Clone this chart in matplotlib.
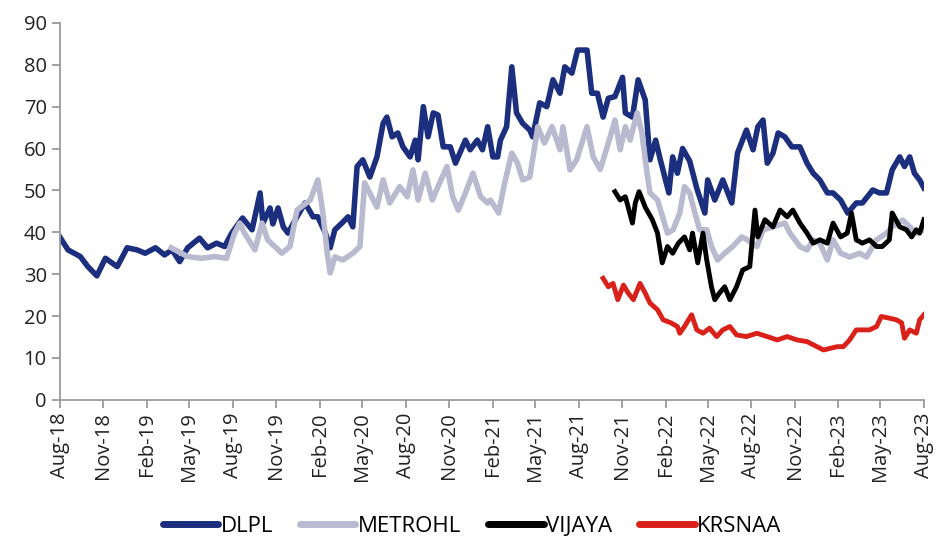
import pandas as pd
import matplotlib
matplotlib.use("Agg")
import matplotlib.pyplot as plt
import matplotlib.dates as mdates

# DLPL
dlpl_dates = [
    "2018-08-01", "2018-08-18", "2018-09-13", "2018-09-29", "2018-10-18", "2018-11-05",
    "2018-11-30", "2018-12-21", "2019-01-11", "2019-01-28", "2019-02-19", "2019-03-10",
    "2019-03-26", "2019-04-11", "2019-04-28", "2019-05-23", "2019-06-09", "2019-06-28",
    "2019-07-15", "2019-07-30", "2019-08-22", "2019-09-11", "2019-09-28", "2019-10-04",
    "2019-10-19", "2019-10-25", "2019-11-05", "2019-11-16", "2019-11-26", "2019-12-15",
    "2020-01-01", "2020-01-18", "2020-01-28", "2020-02-13", "2020-02-23", "2020-03-04",
    "2020-03-19", "2020-04-01", "2020-04-11", "2020-04-20", "2020-05-02", "2020-05-17",
    "2020-06-01", "2020-06-14", "2020-06-22", "2020-07-03", "2020-07-15", "2020-07-26",
    "2020-08-10", "2020-08-21", "2020-08-27", "2020-09-07", "2020-09-17", "2020-09-28",
    "2020-10-08", "2020-10-19", "2020-11-03", "2020-11-14", "2020-12-05", "2020-12-15",
    "2020-12-30", "2021-01-10", "2021-01-21", "2021-02-01", "2021-02-11", "2021-02-17",
    "2021-03-02", "2021-03-13", "2021-03-23", "2021-04-05", "2021-04-20", "2021-04-26",
    "2021-05-11", "2021-05-26", "2021-06-08", "2021-06-23", "2021-07-03", "2021-07-18",
    "2021-07-30", "2021-08-19", "2021-08-29", "2021-09-10", "2021-09-22", "2021-10-03",
    "2021-10-17", "2021-11-02", "2021-11-08", "2021-11-23", "2021-12-05", "2021-12-20",
    "2021-12-30", "2022-01-11", "2022-01-21", "2022-02-08", "2022-02-16", "2022-02-26",
    "2022-03-09", "2022-03-24", "2022-04-08", "2022-04-25", "2022-05-01", "2022-05-16",
    "2022-06-02", "2022-06-21", "2022-07-03", "2022-07-22", "2022-08-05", "2022-08-15",
    "2022-08-26", "2022-09-04", "2022-09-16", "2022-09-27", "2022-10-11", "2022-10-26",
    "2022-11-12", "2022-11-27", "2022-12-10", "2022-12-24", "2023-01-09", "2023-01-21",
    "2023-02-06", "2023-02-21", "2023-03-11", "2023-03-24", "2023-04-15", "2023-04-29",
    "2023-05-14", "2023-05-26", "2023-06-11", "2023-06-21", "2023-07-02", "2023-07-12",
    "2023-07-23", "2023-08-01",
]
dlpl_vals = [
    38.8, 35.8, 34.2, 31.8, 29.6, 33.8,
    31.8, 36.3, 35.8, 35.0, 36.3, 34.6,
    35.8, 33.0, 36.3, 38.6, 36.3, 37.4,
    36.6, 39.8, 43.4, 40.6, 49.4, 42.2,
    45.8, 42.0, 45.8, 41.3, 39.8, 43.7,
    47.0, 43.7, 43.7, 39.8, 36.3, 40.6,
    42.2, 43.7, 41.3, 55.7, 57.3, 53.2,
    58.0, 66.0, 67.5, 62.8, 63.7, 60.4,
    58.0, 62.0, 57.3, 70.0, 62.8, 68.5,
    68.0, 60.4, 60.4, 56.5, 62.0, 59.7,
    62.0, 59.7, 65.2, 58.0, 58.0, 62.0,
    65.2, 79.5, 68.5, 66.0, 64.4, 62.8,
    70.9, 70.0, 76.4, 73.2, 79.5, 78.0,
    83.5, 83.5, 73.2, 73.2, 67.5, 72.0,
    72.4, 77.0, 68.5, 67.5, 76.4, 71.6,
    57.3, 62.0, 57.3, 49.4, 58.0, 54.1,
    60.0, 57.0, 50.5, 44.6, 52.5, 47.7,
    52.5, 47.0, 58.9, 64.4, 59.7, 65.2,
    66.8, 56.5, 58.9, 63.7, 62.8, 60.4,
    60.4, 56.5, 54.1, 52.5, 49.4, 49.4,
    47.7, 44.6, 47.0, 47.0, 50.1, 49.4,
    49.4, 54.9, 58.0, 55.7, 58.0, 54.1,
    52.5, 50.6,
]

# METROHL
metro_dates = [
    "2019-03-24", "2019-04-28", "2019-05-27", "2019-06-24", "2019-07-19", "2019-08-05",
    "2019-08-16", "2019-08-26", "2019-09-17", "2019-10-02", "2019-10-14", "2019-11-13",
    "2019-11-30", "2019-12-15", "2020-01-12", "2020-01-28", "2020-02-07", "2020-02-17",
    "2020-02-23", "2020-03-04", "2020-03-21", "2020-04-11", "2020-04-26", "2020-05-06",
    "2020-06-01", "2020-06-14", "2020-06-28", "2020-07-19", "2020-08-04", "2020-08-16",
    "2020-08-27", "2020-09-11", "2020-09-26", "2020-10-08", "2020-10-27", "2020-11-08",
    "2020-11-20", "2020-12-05", "2020-12-21", "2021-01-06", "2021-01-21", "2021-01-27",
    "2021-02-13", "2021-02-26", "2021-03-13", "2021-03-25", "2021-04-05", "2021-04-20",
    "2021-05-07", "2021-05-21", "2021-06-06", "2021-06-23", "2021-06-29", "2021-07-14",
    "2021-07-28", "2021-08-19", "2021-09-01", "2021-09-16", "2021-10-07", "2021-10-17",
    "2021-10-28", "2021-11-08", "2021-11-18", "2021-12-03", "2021-12-13", "2021-12-24",
    "2021-12-30", "2022-01-15", "2022-02-05", "2022-02-17", "2022-03-03", "2022-03-13",
    "2022-03-24", "2022-04-04", "2022-04-14", "2022-04-29", "2022-05-09", "2022-05-22",
    "2022-06-06", "2022-06-23", "2022-07-12", "2022-07-24", "2022-08-13", "2022-08-26",
    "2022-09-16", "2022-10-11", "2022-10-22", "2022-11-12", "2022-11-27", "2022-12-10",
    "2022-12-24", "2023-01-09", "2023-01-21", "2023-02-06", "2023-02-25", "2023-03-18",
    "2023-04-02", "2023-04-23", "2023-05-14", "2023-05-26", "2023-06-17", "2023-07-02",
    "2023-07-16", "2023-08-01",
]
metro_vals = [
    36.3, 34.2, 33.8, 34.2, 33.8, 39.8,
    42.2, 39.8, 35.8, 42.2, 38.2, 35.0,
    36.6, 45.3, 47.7, 52.5, 45.3, 35.0,
    30.3, 34.1, 33.4, 35.0, 36.6, 51.8,
    46.0, 52.5, 47.0, 50.9, 48.5, 54.9,
    47.7, 54.1, 47.7, 50.9, 55.7, 48.5,
    45.3, 49.4, 54.1, 48.5, 47.0, 47.7,
    44.6, 51.8, 58.9, 56.5, 52.5, 53.2,
    65.2, 61.3, 65.2, 59.7, 65.2, 54.9,
    57.3, 65.2, 58.0, 55.0, 62.8, 66.8,
    59.7, 65.2, 62.0, 68.5, 63.7, 54.1,
    49.4, 47.7, 39.8, 40.6, 44.6, 50.9,
    49.4, 44.6, 40.6, 40.6, 36.6, 33.4,
    35.0, 36.6, 38.9, 38.2, 36.6, 40.6,
    41.3, 42.2, 39.8, 36.6, 35.8, 38.2,
    37.4, 33.4, 38.2, 35.0, 34.1, 35.0,
    34.1, 38.2, 39.8, 41.3, 42.9, 41.3,
    39.8, 40.6,
]

# VIJAYA
vijaya_dates = [
    "2021-10-17", "2021-10-28", "2021-11-08", "2021-11-23", "2021-11-29", "2021-12-07",
    "2021-12-20", "2022-01-04", "2022-01-15", "2022-01-25", "2022-02-05", "2022-02-16",
    "2022-02-28", "2022-03-13", "2022-03-24", "2022-03-30", "2022-04-10", "2022-04-21",
    "2022-04-29", "2022-05-09", "2022-05-16", "2022-05-26", "2022-06-06", "2022-06-17",
    "2022-07-01", "2022-07-14", "2022-07-29", "2022-08-09", "2022-08-15", "2022-08-30",
    "2022-09-16", "2022-10-01", "2022-10-16", "2022-10-28", "2022-11-12", "2022-11-27",
    "2022-12-10", "2022-12-24", "2023-01-09", "2023-01-21", "2023-02-06", "2023-02-20",
    "2023-03-01", "2023-03-11", "2023-03-24", "2023-04-08", "2023-04-23", "2023-05-05",
    "2023-05-20", "2023-05-26", "2023-06-11", "2023-06-25", "2023-07-06", "2023-07-16",
    "2023-07-23", "2023-08-01",
]
vijaya_vals = [
    49.7, 47.7, 48.5, 42.2, 47.0, 49.7,
    46.0, 43.0, 39.8, 32.7, 36.6, 35.0,
    37.4, 38.9, 35.8, 39.8, 32.7, 39.8,
    33.4, 27.0, 23.9, 25.5, 27.0, 23.9,
    27.0, 31.0, 31.8, 45.3, 38.9, 43.0,
    41.3, 45.3, 43.7, 45.3, 42.2, 39.8,
    37.4, 38.2, 37.4, 42.2, 38.9, 39.8,
    44.6, 38.2, 37.4, 38.2, 36.6, 36.6,
    38.2, 44.6, 41.3, 40.6, 38.9, 40.6,
    39.8, 43.0,
]

# KRSNAA
krsnaa_dates = [
    "2021-09-22", "2021-10-03", "2021-10-13", "2021-10-23", "2021-11-04", "2021-11-14",
    "2021-11-25", "2021-12-09", "2021-12-20", "2021-12-30", "2022-01-15", "2022-01-27",
    "2022-02-12", "2022-02-26", "2022-03-03", "2022-03-13", "2022-03-28", "2022-04-08",
    "2022-04-21", "2022-05-05", "2022-05-20", "2022-06-02", "2022-06-17", "2022-07-01",
    "2022-07-22", "2022-08-13", "2022-09-04", "2022-09-25", "2022-10-16", "2022-11-06",
    "2022-11-27", "2022-12-18", "2023-01-01", "2023-01-15", "2023-01-30", "2023-02-12",
    "2023-02-25", "2023-03-11", "2023-03-24", "2023-04-08", "2023-04-23", "2023-05-03",
    "2023-05-20", "2023-06-04", "2023-06-15", "2023-06-21", "2023-07-02", "2023-07-16",
    "2023-07-23", "2023-08-01",
]
krsnaa_vals = [
    29.0, 27.0, 27.8, 23.9, 27.4, 25.5,
    23.9, 27.8, 25.5, 23.1, 21.5, 19.1,
    18.4, 17.5, 15.9, 17.5, 20.3, 16.7,
    15.9, 17.1, 15.1, 16.7, 17.5, 15.5,
    15.1, 15.9, 15.1, 14.3, 15.1, 14.3,
    13.9, 12.7, 11.9, 12.3, 12.7, 12.7,
    14.3, 16.7, 16.7, 16.7, 17.5, 19.9,
    19.5, 19.1, 18.4, 14.7, 16.7, 15.9,
    19.1, 20.3,
]

plt.rcParams['font.family'] = ['Open Sans', 'DejaVu Sans']

fig = plt.figure(figsize=(9.37, 5.44), dpi=100)
ax = fig.add_axes([0.064, 0.265, 0.922, 0.693])

ax.plot(pd.to_datetime(dlpl_dates), dlpl_vals, color='#1c2f7e', lw=4.0,
        solid_joinstyle='round', label='DLPL')
ax.plot(pd.to_datetime(metro_dates), metro_vals, color='#b9b9cf', lw=4.0,
        solid_joinstyle='round', label='METROHL')
ax.plot(pd.to_datetime(vijaya_dates), vijaya_vals, color='black', lw=3.5,
        solid_joinstyle='round', label='VIJAYA')
ax.plot(pd.to_datetime(krsnaa_dates), krsnaa_vals, color='#da2119', lw=3.5,
        solid_joinstyle='round', label='KRSNAA')

ax.set_ylim(0, 90)
ax.set_yticks(range(0, 91, 10))
ax.set_xlim(pd.Timestamp('2018-08-01'), pd.Timestamp('2023-08-01'))
ax.xaxis.set_major_locator(mdates.MonthLocator(bymonth=[2, 5, 8, 11], bymonthday=1))
ax.xaxis.set_major_formatter(mdates.DateFormatter('%b-%y'))

for s in ['top', 'right']:
    ax.spines[s].set_visible(False)
for s in ['left', 'bottom']:
    ax.spines[s].set_color('#9a9a9a')
    ax.spines[s].set_linewidth(1.3)
ax.tick_params(axis='both', colors='#9a9a9a', length=6, width=1.3, labelsize=14.5,
               labelcolor='#222222')
ax.tick_params(axis='x', labelrotation=90, pad=3)

leg = ax.legend(loc='center', bbox_to_anchor=(0.477, -0.335), ncol=4, frameon=False,
                fontsize=16, handlelength=2.5, handletextpad=0.12, columnspacing=1.2)
for h in leg.get_lines():
    h.set_linewidth(5)
    h.set_solid_capstyle('round')

fig.savefig('out.png', dpi=100)
